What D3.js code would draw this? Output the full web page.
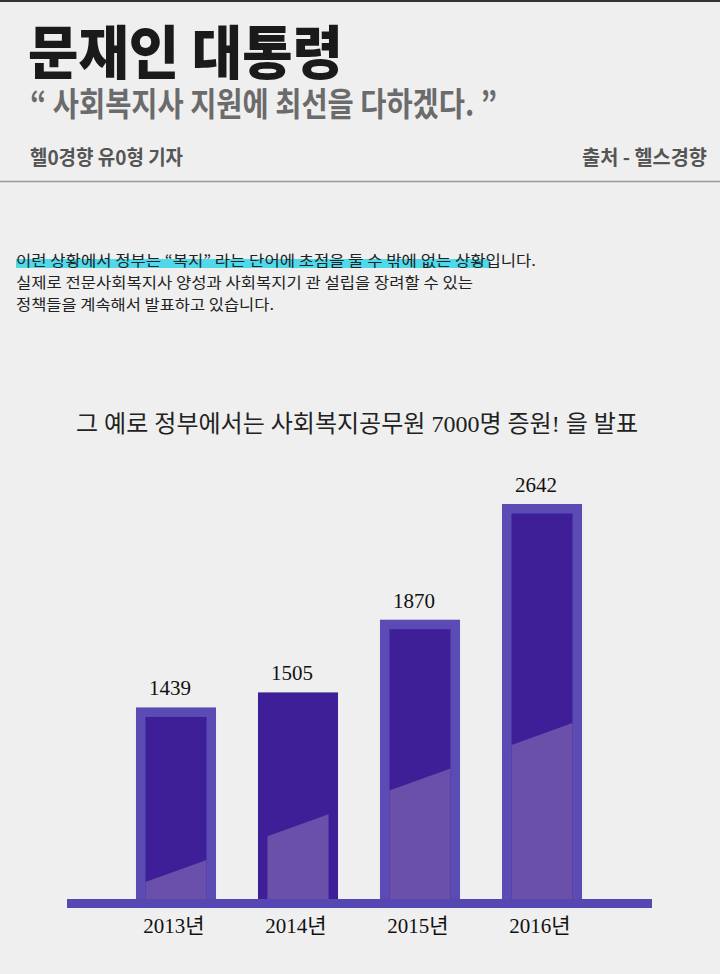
<!DOCTYPE html>
<html><head><meta charset="utf-8">
<script src="https://cdn.jsdelivr.net/npm/d3@7"></script>
<style>html,body{margin:0;padding:0;background:#efefef;}svg{display:block;}</style>
</head><body>
<svg id="c" width="720" height="974"></svg>
<script>
// ---- data ----
const years = ["2013년", "2014년", "2015년", "2016년"];
const counts = [1439, 1505, 1870, 2642];
const valueLabels = ["1439", "1505", "1870", "2642"];

const headTitle = "문재인 대통령";
const headQuote = "“ 사회복지사 지원에 최선을 다하겠다. ”";
const byline = "헬0경향 유0형 기자";
const source = "출처 - 헬스경향";
const paragraph = [
  "이런 상황에서 정부는 “복지” 라는 단어에 초점을 둘 수 밖에 없는 상황입니다.",
  "실제로 전문사회복지사 양성과 사회복지기 관 설립을 장려할 수 있는",
  "정책들을 계속해서 발표하고 있습니다."
];
const chartTitle = "그 예로 정부에서는 사회복지공무원 7000명 증원! 을 발표";

// ---- styles ----
const C = {bg:"#efefef", frame:"#5a4cb4", dark:"#3e1f98", light:"#6a50ab", axis:"#5548b2", hl:"#4fd9ea"};
const sans = "'Noto Sans CJK KR','Noto Sans',sans-serif";
const serif = "'Liberation Serif','DejaVu Serif','Noto Sans CJK KR',serif";

const svg = d3.select("#c");
svg.append("rect").attr("width",720).attr("height",974).attr("fill",C.bg);
svg.append("rect").attr("x",0).attr("y",0).attr("width",720).attr("height",2).attr("fill","#333");

// header
svg.append("text").text(headTitle).attr("x",28).attr("y",74)
  .attr("font-family",sans).attr("font-weight",900).attr("font-size",58).attr("fill","#1a1a1a")
  .attr("textLength",315).attr("lengthAdjust","spacingAndGlyphs");
svg.append("text").text(headQuote).attr("x",30).attr("y",116)
  .attr("font-family",sans).attr("font-weight",700).attr("font-size",33).attr("fill","#6b6b6b")
  .attr("textLength",467).attr("lengthAdjust","spacingAndGlyphs");
svg.append("text").text(byline).attr("x",30).attr("y",165)
  .attr("font-family",sans).attr("font-weight",700).attr("font-size",20).attr("fill","#555")
  .attr("textLength",153).attr("lengthAdjust","spacingAndGlyphs");
svg.append("text").text(source).attr("x",707).attr("y",165).attr("text-anchor","end")
  .attr("font-family",sans).attr("font-weight",700).attr("font-size",20).attr("fill","#555")
  .attr("textLength",125).attr("lengthAdjust","spacingAndGlyphs");
svg.append("line").attr("x1",0).attr("x2",720).attr("y1",181.5).attr("y2",181.5)
  .attr("stroke","#9a9a9a").attr("stroke-width",1.5);

// paragraph
svg.append("rect").attr("x",16).attr("y",259).attr("width",474).attr("height",9).attr("fill",C.hl);
const pLens = [520, 457, 258];
paragraph.forEach((t,i)=>{
  svg.append("text").text(t).attr("x",16).attr("y",266 + i*22)
    .attr("font-family",sans).attr("font-size",15).attr("fill","#222")
    .attr("textLength",pLens[i]).attr("lengthAdjust","spacingAndGlyphs");
});

// chart title
svg.append("text").text(chartTitle).attr("x",76).attr("y",432)
  .attr("font-family",serif).attr("font-size",24).attr("fill","#222")
  .attr("textLength",562).attr("lengthAdjust","spacingAndGlyphs");

// scales
const baseY = 899;
const x = d3.scaleBand().domain(years).range([115,603]).paddingInner(0.344).paddingOuter(0.172);
const y = d3.scaleLog().domain([812, 2642]).range([baseY, 504]);

const data = years.map((yr,i)=>({year:yr, value:counts[i], label:valueLabels[i], i}));
const inset = 9.5;

const g = svg.append("g");
data.forEach(d=>{
  const x0 = x(d.year), w = x.bandwidth(), top = y(d.value);
  const framed = d.i !== 1;
  // outer
  g.append("rect").attr("x",x0).attr("y",top).attr("width",w).attr("height",baseY-top)
    .attr("fill",framed?C.frame:C.dark);
  // inner dark
  const ix = x0+inset, iw = w-2*inset, it = top + (framed?inset:0);
  if (framed) g.append("rect").attr("x",ix).attr("y",it).attr("width",iw).attr("height",baseY-it).attr("fill",C.dark);
  // light slanted fill (decorative)
  const L = 17 + 45.7*d.i;
  g.append("path").attr("d",`M${ix},${baseY} L${ix},${baseY-L} L${ix+iw},${baseY-L-22} L${ix+iw},${baseY} Z`)
    .attr("fill",C.light);
  // value label
  g.append("text").text(d.label).attr("x",x0+w/2-6).attr("y",top-12).attr("text-anchor","middle")
    .attr("font-family",serif).attr("font-size",21).attr("fill","#111");
});

// axis bar
svg.append("rect").attr("x",67).attr("y",baseY).attr("width",585).attr("height",9).attr("fill",C.axis);

// axis labels
const xAxis = d3.axisBottom(x).tickSize(0).tickPadding(0);
const ag = svg.append("g").attr("transform",`translate(0,${baseY+9})`).call(xAxis);
ag.select(".domain").remove();
ag.selectAll("text").attr("font-family",serif).attr("font-size",21).attr("fill","#111")
  .attr("dy","0").attr("y",25).attr("x",-2);
</script>
</body></html>
